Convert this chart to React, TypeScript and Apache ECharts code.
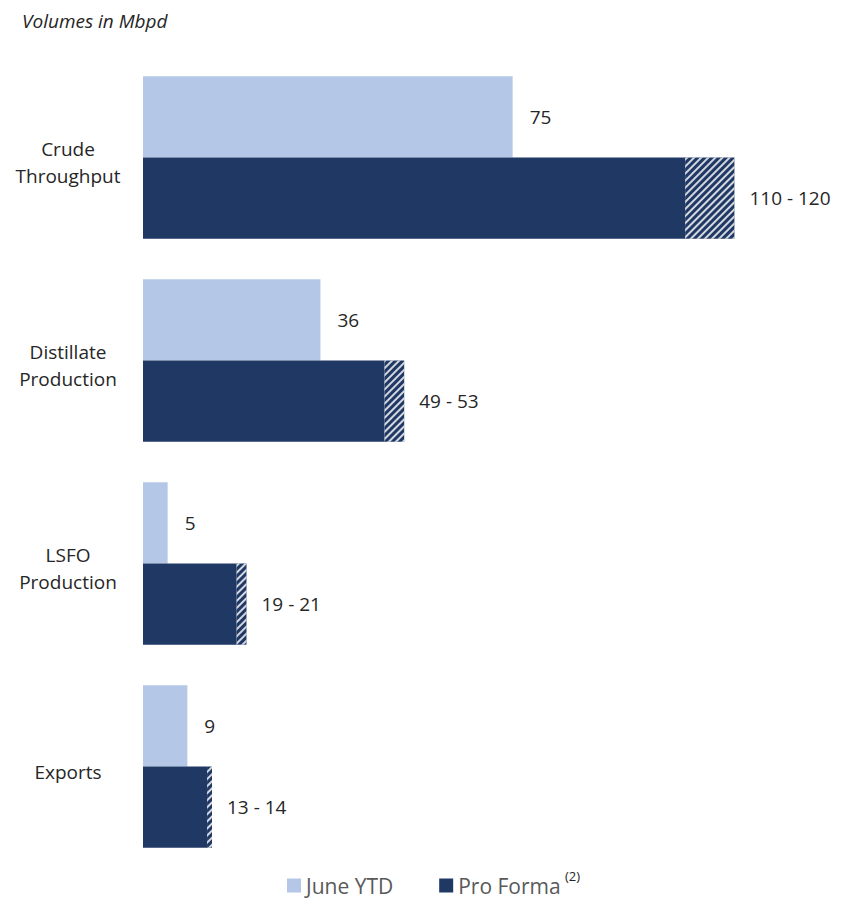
import React, { useEffect, useRef } from "react";
import * as echarts from "echarts";

const categories = ["Crude\nThroughput", "Distillate\nProduction", "LSFO\nProduction", "Exports"];
const juneYTD = [75, 36, 5, 9];
const proFormaLow = [110, 49, 19, 13];
const proFormaHigh = [120, 53, 21, 14];
const proFormaLabels = ["110 - 120", "49 - 53", "19 - 21", "13 - 14"];

const LIGHT = "#B4C7E7";
const NAVY = "#203864";
const FONT = "'Open Sans', sans-serif";

export default function App() {
  const ref = useRef<HTMLDivElement>(null);
  useEffect(() => {
    if (!ref.current) return;
    const chart = echarts.init(ref.current, undefined, { renderer: "svg" });
    const range = proFormaHigh.map((h, i) => h - proFormaLow[i]);
    chart.setOption({
      animation: false,
      title: {
        text: "Volumes in Mbpd",
        left: 14,
        top: 2,
        padding: 0,
        textStyle: { fontFamily: FONT, fontSize: 19, lineHeight: 22, fontStyle: "italic", fontWeight: "normal", color: "#262626" },
      },
      legend: {
        data: [
          { name: "June YTD", itemStyle: { color: LIGHT } },
          { name: "Pro Forma", itemStyle: { color: NAVY } },
        ],
        left: 279,
        top: 867,
        padding: 0,
        icon: "rect",
        itemWidth: 14,
        itemHeight: 14,
        itemGap: 46,
        textStyle: { fontFamily: FONT, fontSize: 21, color: "#595959" },
      },
      graphic: [
        {
          type: "text",
          left: 557,
          top: 861,
          style: { text: "(2)", font: `13px ${FONT}`, fill: "#262626" },
        },
      ],
      grid: { left: 135, top: 48, width: 690, height: 812, containLabel: false },
      xAxis: { type: "value", min: 0, max: 140, show: false },
      yAxis: {
        type: "category",
        data: categories,
        inverse: true,
        axisLine: { show: false },
        axisTick: { show: false },
        axisLabel: {
          align: "center",
          margin: 75,
          fontFamily: FONT,
          fontSize: 19,
          color: "#262626",
          formatter: (v: string) =>
            "{s| }\n" + v.split("\n").map((s) => `{l|${s}}`).join("\n"),
          rich: {
            s: { fontSize: 1, lineHeight: 10 },
            l: { fontFamily: FONT, fontSize: 19, lineHeight: 27, color: "#262626" },
          },
        },
      },
      series: [
        {
          name: "June YTD",
          type: "bar",
          stack: "a",
          data: juneYTD,
          barGap: "0%",
          barCategoryGap: "20%",
          itemStyle: { color: LIGHT },
          label: {
            show: true,
            position: "right",
            distance: 17,
            fontFamily: FONT,
            fontSize: 19,
            color: "#262626",
          },
        },
        {
          name: "Pro Forma",
          type: "bar",
          stack: "b",
          data: proFormaLow,
          barGap: "0%",
          barCategoryGap: "20%",
          itemStyle: { color: NAVY },
        },
        {
          name: "Pro Forma Range",
          type: "bar",
          stack: "b",
          data: range,
          barGap: "0%",
          barCategoryGap: "20%",
          itemStyle: {
            color: NAVY,
            decal: {
              symbol: "rect",
              color: "rgba(255,255,255,0.8)",
              backgroundColor: NAVY,
              dashArrayX: [1, 0],
              dashArrayY: [1.2, 2.8],
              rotation: -Math.PI / 4,
            },
          },
          label: {
            show: true,
            position: "right",
            distance: 15,
            fontFamily: FONT,
            fontSize: 19,
            color: "#262626",
            formatter: (p: any) => proFormaLabels[p.dataIndex],
          },
        },
      ],
    });
    return () => chart.dispose();
  }, []);
  return <div ref={ref} style={{ width: 850, height: 899 }} />;
}
